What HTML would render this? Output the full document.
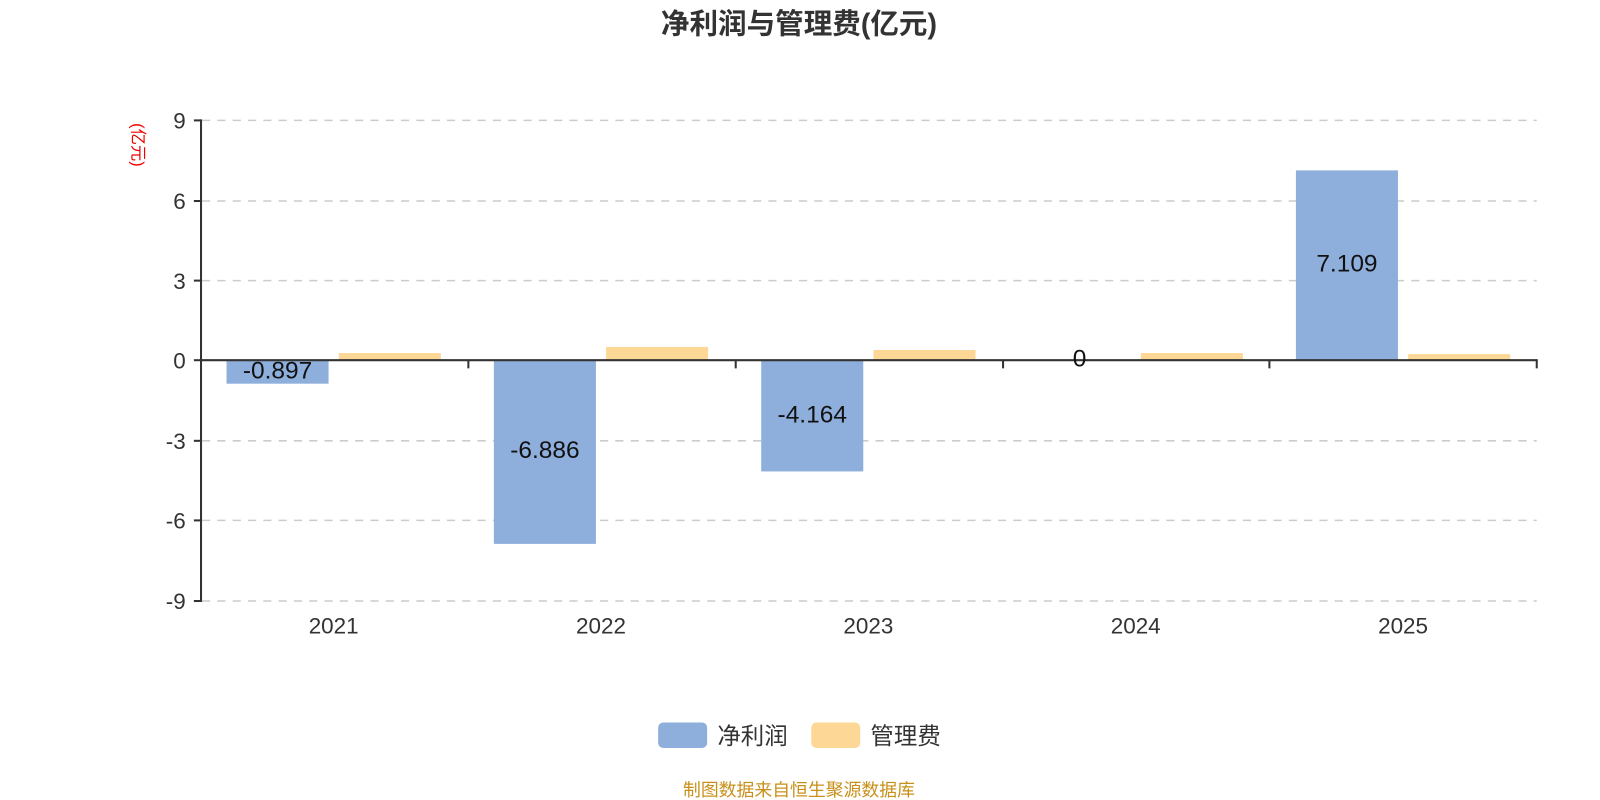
<!DOCTYPE html>
<html><head><meta charset="utf-8"><style>
body{margin:0;background:#fff;}
svg{display:block;}
svg text{font-family:"Liberation Sans","Noto Sans CJK SC",sans-serif;}
</style></head><body>
<svg width="1600" height="800" viewBox="0 0 1568 784" xmlns="http://www.w3.org/2000/svg">
<text x="783" y="33" text-anchor="middle" font-size="28" font-weight="bold" fill="#333">净利润与管理费(亿元)</text>
<g stroke="#ccc" stroke-width="1.5" stroke-dasharray="8,7">
<line x1="198" y1="118" x2="1506" y2="118"/>
<line x1="198" y1="197" x2="1506" y2="197"/>
<line x1="198" y1="275" x2="1506" y2="275"/>
<line x1="198" y1="432" x2="1506" y2="432"/>
<line x1="198" y1="510" x2="1506" y2="510"/>
<line x1="198" y1="589" x2="1506" y2="589"/>
</g>
<g fill="#8eaedb">
<rect x="222" y="353" width="100" height="23"/>
<rect x="484" y="353" width="100" height="180"/>
<rect x="746" y="353" width="100" height="109"/>
<rect x="1270" y="167" width="100" height="186"/>
</g>
<g fill="#fdd795">
<rect x="332" y="346" width="100" height="7"/>
<rect x="594" y="340" width="100" height="13"/>
<rect x="856" y="343" width="100" height="10"/>
<rect x="1118" y="346" width="100" height="7"/>
<rect x="1380" y="347" width="100" height="6"/>
</g>
<g stroke="#333" stroke-width="2">
<line x1="197" y1="117" x2="197" y2="590"/>
<line x1="197" y1="353" x2="1507" y2="353"/>
<line x1="190" y1="118" x2="197" y2="118"/><line x1="190" y1="197" x2="197" y2="197"/>
<line x1="190" y1="275" x2="197" y2="275"/><line x1="190" y1="353" x2="197" y2="353"/>
<line x1="190" y1="432" x2="197" y2="432"/><line x1="190" y1="510" x2="197" y2="510"/>
<line x1="190" y1="589" x2="197" y2="589"/>
<line x1="459" y1="353" x2="459" y2="361"/><line x1="721" y1="353" x2="721" y2="361"/>
<line x1="983" y1="353" x2="983" y2="361"/><line x1="1244" y1="353" x2="1244" y2="361"/>
<line x1="1506" y1="353" x2="1506" y2="361"/>
</g>
<g font-size="22" fill="#333" text-anchor="end">
<text x="182" y="126">9</text><text x="182" y="205">6</text><text x="182" y="283">3</text>
<text x="182" y="361">0</text><text x="182" y="440">-3</text><text x="182" y="518">-6</text>
<text x="182" y="597">-9</text>
</g>
<text transform="translate(130,142) rotate(90)" text-anchor="middle" font-size="16" fill="#e00">(亿元)</text>
<g font-size="22" fill="#333" text-anchor="middle">
<text x="327" y="621">2021</text><text x="589" y="621">2022</text><text x="851" y="621">2023</text>
<text x="1113" y="621">2024</text><text x="1375" y="621">2025</text>
</g>
<g font-size="24" fill="#111" text-anchor="middle">
<text x="272" y="371">-0.897</text><text x="534" y="449">-6.886</text>
<text x="796" y="414">-4.164</text><text x="1058" y="359">0</text>
<text x="1320" y="266">7.109</text>
</g>
<rect x="645" y="708" width="48" height="25" rx="5" fill="#8eaedb"/>
<text x="703" y="729" font-size="23" fill="#333">净利润</text>
<rect x="795" y="708" width="48" height="25" rx="5" fill="#fdd795"/>
<text x="853" y="729" font-size="23" fill="#333">管理费</text>
<text x="783" y="780" text-anchor="middle" font-size="17.5" fill="#c8901a">制图数据来自恒生聚源数据库</text>
</svg>
</body></html>
